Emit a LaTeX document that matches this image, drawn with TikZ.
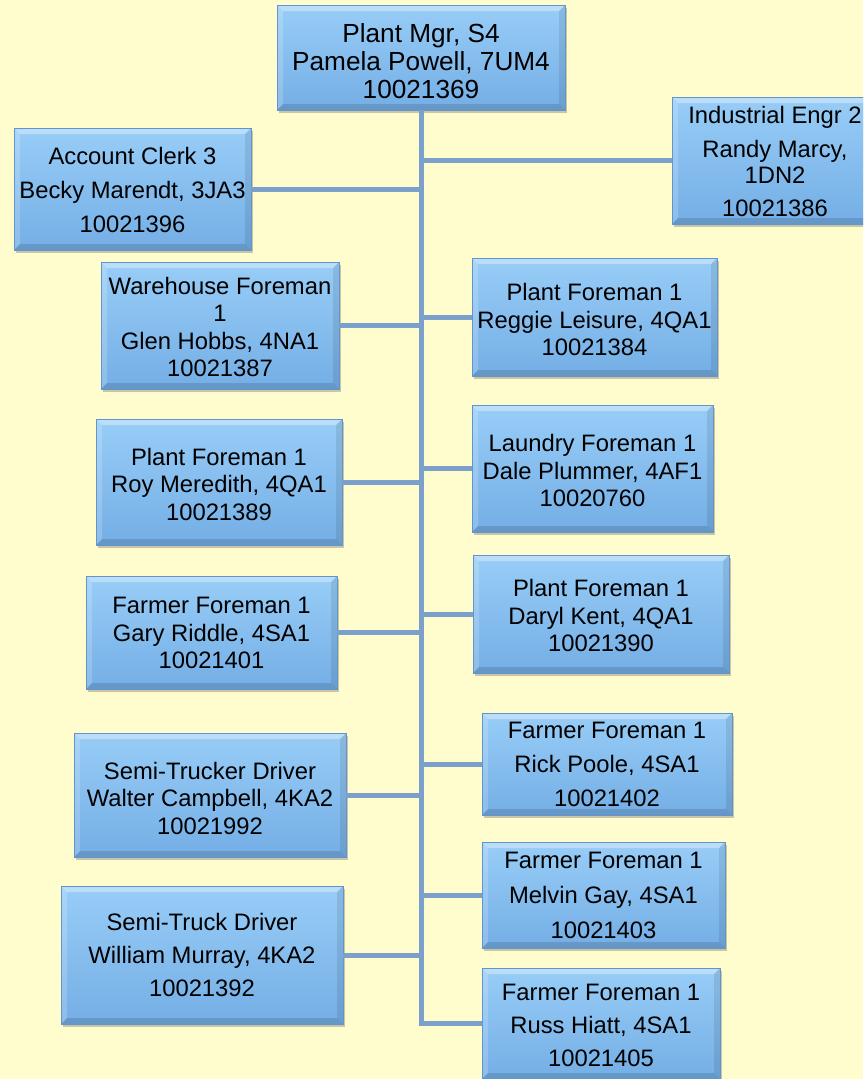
\documentclass[tikz,border=0pt]{standalone}
\usepackage{fontspec}
\setmainfont{Liberation Sans}
\usetikzlibrary{shadows,calc}
\definecolor{bgcol}{HTML}{FFFCCD}
\definecolor{boxtop}{HTML}{98CDF7}
\definecolor{boxbot}{HTML}{74AEE5}
\definecolor{boxedge}{HTML}{6395CA}
\definecolor{conncol}{HTML}{7BA0CB}
\tikzset{
  orgbox/.style={rectangle, inner sep=0pt, outer sep=0pt,
    top color=boxtop, bottom color=boxbot, draw=boxedge, line width=0.5pt,
    drop shadow={shadow xshift=2pt, shadow yshift=-3pt, opacity=0.3, fill=black!70},
    path picture={
      \path (path picture bounding box.north west) coordinate (pnw)
            (path picture bounding box.south east) coordinate (pse);
      \fill[white, opacity=0.35] (pnw) -- (pnw -| pse) -- ([shift={(-6pt,-6pt)}]pnw -| pse) -- ([shift={(6pt,-6pt)}]pnw) -- cycle;
      \fill[white, opacity=0.18] (pnw) -- ([shift={(6pt,-6pt)}]pnw) -- ([shift={(6pt,6pt)}]pse -| pnw) -- (pse -| pnw) -- cycle;
      \fill[black, opacity=0.13] (pse -| pnw) -- ([shift={(6pt,6pt)}]pse -| pnw) -- ([shift={(-6pt,6pt)}]pse) -- (pse) -- cycle;
      \fill[black, opacity=0.09] (pse) -- ([shift={(-6pt,6pt)}]pse) -- ([shift={(-6pt,-6pt)}]pnw -| pse) -- (pnw -| pse) -- cycle;
    }},
  lbl/.style={align=center, inner sep=0pt, text=black, font=\fontsize{23.8}{27.5}\selectfont},
  lblwide/.style={align=center, inner sep=0pt, text=black, font=\fontsize{23.8}{34}\selectfont},
  conn/.style={draw=conncol, line width=5pt}
}
\begin{document}
\begin{tikzpicture}[x=1pt, y=-1pt]
\useasboundingbox (0,0) rectangle (863,1079);
\clip (0,0) rectangle (863,1079);
\fill[bgcol] (0,0) rectangle (863,1079);

% boxes
\node[orgbox, minimum width=288pt, minimum height=105pt] (top) at (421,57.5) {};
\node[orgbox, minimum width=206pt, minimum height=127pt] (ind) at (775,160.5) {};
\node[orgbox, minimum width=237pt, minimum height=122pt] (acct) at (132.5,189) {};
\node[orgbox, minimum width=238pt, minimum height=127pt] (ware) at (220,325.5) {};
\node[orgbox, minimum width=245pt, minimum height=118pt] (reg) at (594.5,317) {};
\node[orgbox, minimum width=246pt, minimum height=126pt] (roy) at (219,482) {};
\node[orgbox, minimum width=241pt, minimum height=127pt] (laun) at (592.5,468.5) {};
\node[orgbox, minimum width=251pt, minimum height=113pt] (gary) at (211.5,632.5) {};
\node[orgbox, minimum width=256pt, minimum height=118pt] (daryl) at (601,614) {};
\node[orgbox, minimum width=272pt, minimum height=124pt] (walter) at (210,795) {};
\node[orgbox, minimum width=250pt, minimum height=102pt] (rick) at (607,764) {};
\node[orgbox, minimum width=282pt, minimum height=138pt] (william) at (202,955) {};
\node[orgbox, minimum width=243pt, minimum height=106pt] (melvin) at (603.5,895) {};
\node[orgbox, minimum width=238pt, minimum height=111pt] (russ) at (601,1023.5) {};

% connectors
\coordinate (spine) at (421,110);
\draw[conn] (top.south) -- (top.south |- russ.west) -- (russ.west);
\draw[conn] (ind.west) -- (ind.west -| spine);
\draw[conn] (acct.east) -- (acct.east -| spine);
\draw[conn] (ware.east) -- (ware.east -| spine);
\draw[conn] (reg.west) -- (reg.west -| spine);
\draw[conn] (roy.east) -- (roy.east -| spine);
\draw[conn] (laun.west) -- (laun.west -| spine);
\draw[conn] (gary.east) -- (gary.east -| spine);
\draw[conn] (daryl.west) -- (daryl.west -| spine);
\draw[conn] (walter.east) -- (walter.east -| spine);
\draw[conn] (rick.west) -- (rick.west -| spine);
\draw[conn] (william.east) -- (william.east -| spine);
\draw[conn] (melvin.west) -- (melvin.west -| spine);

% labels
\node[lbl, font=\fontsize{26.2}{28}\selectfont] (t-top) at (421,61) {Plant Mgr, S4\\Pamela Powell, 7UM4\\10021369};
\node[lbl, font=\fontsize{23.8}{26}\selectfont] (t-ind) at (775,161) {Industrial Engr 2\\[8pt]Randy Marcy,\\1DN2\\[7pt]10021386};
\node[lblwide] (t-acct) at (132.5,190) {Account Clerk 3\\Becky Marendt, 3JA3\\10021396};
\node[lbl] (t-ware) at (220,327) {Warehouse Foreman\\1\\Glen Hobbs, 4NA1\\10021387};
\node[lbl] (t-reg) at (594.5,319.5) {Plant Foreman 1\\Reggie Leisure, 4QA1\\10021384};
\node[lbl] (t-roy) at (219,484) {Plant Foreman 1\\Roy Meredith, 4QA1\\10021389};
\node[lbl] (t-laun) at (592.5,470.5) {Laundry Foreman 1\\Dale Plummer, 4AF1\\10020760};
\node[lbl] (t-gary) at (211.5,633) {Farmer Foreman 1\\Gary Riddle, 4SA1\\10021401};
\node[lbl] (t-daryl) at (601,615.5) {Plant Foreman 1\\Daryl Kent, 4QA1\\10021390};
\node[lbl] (t-walter) at (210,798) {Semi-Trucker Driver\\Walter Campbell, 4KA2\\10021992};
\node[lblwide] (t-rick) at (607,764) {Farmer Foreman 1\\Rick Poole, 4SA1\\10021402};
\node[lblwide, font=\fontsize{23.8}{33}\selectfont] (t-william) at (202,955) {Semi-Truck Driver\\William Murray, 4KA2\\10021392};
\node[lblwide, font=\fontsize{23.8}{35}\selectfont] (t-melvin) at (603.5,895) {Farmer Foreman 1\\Melvin Gay, 4SA1\\10021403};
\node[lblwide, font=\fontsize{23.8}{33}\selectfont] (t-russ) at (601,1025) {Farmer Foreman 1\\Russ Hiatt, 4SA1\\10021405};
\end{tikzpicture}
\end{document}
